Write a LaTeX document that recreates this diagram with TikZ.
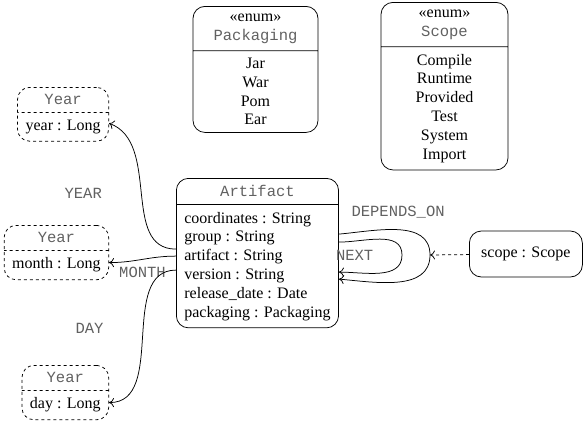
\documentclass[tikz,border=0pt]{standalone}
\usepackage{fontspec}
\setmainfont{Liberation Serif}
\setmonofont{Liberation Mono}[Scale=0.97]
\usetikzlibrary{shapes.multipart,arrows.meta}

\definecolor{labelgray}{gray}{0.38}
\newcommand{\clsname}[1]{\textcolor{labelgray}{\texttt{#1}}}

\begin{document}
\begin{tikzpicture}[x=1pt,y=-1pt,line width=0.75pt,
  >={Computer Modern Rightarrow[length=5pt,width=9pt]},
  every node/.style={font=\fontsize{16}{18.8}\selectfont},
  umlbox/.style={rectangle split,rectangle split parts=2,draw,rounded corners=12pt,
    align=center,inner xsep=8pt,inner ysep=7pt},
  valbox/.style={umlbox,dashed},
  attrbox/.style={draw,rounded corners=12pt,inner xsep=8pt},
  lbl/.style={font=\ttfamily\fontsize{16}{18.8}\selectfont,text=labelgray}]
\useasboundingbox (0,0) rectangle (587,423);

% enums
\node[umlbox,minimum width=125pt,anchor=north] (packaging) at (255.5,6)
  {«enum»\\\clsname{Packaging}\nodepart{two}Jar\\War\\Pom\\Ear};
\node[umlbox,minimum width=127pt,anchor=north] (scope) at (444.5,2)
  {«enum»\\\clsname{Scope}\nodepart{two}Compile\\Runtime\\Provided\\Test\\System\\Import};

% artifact
\node[umlbox,align=left,rectangle split part align={center,left},anchor=north west] (artifact) at (176,178)
  {\clsname{Artifact}\nodepart{two}coordinates : String\\group : String\\artifact : String\\version : String\\release\_date : Date\\packaging : Packaging};

% year values
\node[valbox,anchor=north east] (yearY) at (109,87) {\clsname{Year}\nodepart{two}year : Long};
\node[valbox,anchor=north east] (yearM) at (109,225) {\clsname{Year}\nodepart{two}month : Long};
\node[valbox,anchor=north east] (yearD) at (109,365) {\clsname{Year}\nodepart{two}day : Long};

\node[attrbox,minimum width=113pt,minimum height=46pt,anchor=west] (scopeattr) at (469,254) {scope : Scope};
\coordinate (deptip) at (430,255);
\coordinate (nexttip) at (402,255);

\path[->]
  ([yshift=4pt]artifact.west) edge[out=180,in=-20] node[lbl,xshift=-58pt] {YEAR} ([yshift=-9pt]yearY.east)
  ([yshift=-3pt]artifact.west) edge[out=180,in=0] node[lbl,yshift=-13pt] {MONTH} ([yshift=-10pt]yearM.east)
  ([yshift=-17pt]artifact.west) edge[out=180,in=0] node[lbl,xshift=-53pt,yshift=8pt] {DAY} ([yshift=-10pt]yearD.east);

% self loops
\draw[->] ([yshift=19pt]artifact.east) to[out=5,in=90] node[lbl,above=8pt] {DEPENDS\_ON} (deptip)
  to[out=-90,in=-5] ([yshift=-26pt]artifact.east);
\draw[->] ([yshift=11pt]artifact.east) to[out=0,in=90] node[lbl,at end,left=25pt] {NEXT} (nexttip)
  to[out=-90,in=0] ([yshift=-19pt]artifact.east);
\draw[->,dashed] (scopeattr) -- (deptip);
\end{tikzpicture}
\end{document}
